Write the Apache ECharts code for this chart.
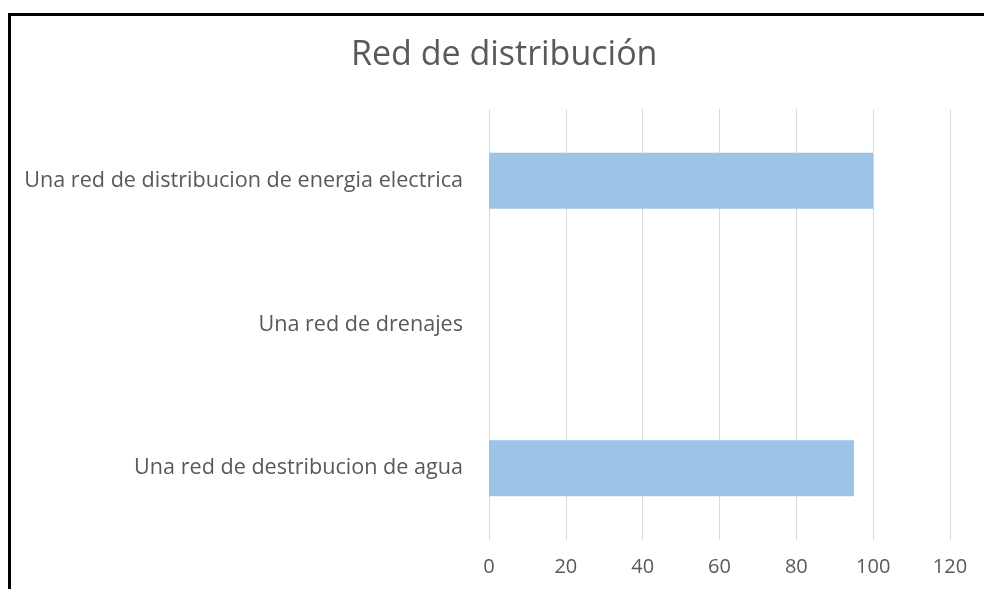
<!DOCTYPE html>
<html>
<head>
<meta charset="utf-8">
<script src="https://cdn.jsdelivr.net/npm/echarts@6/dist/echarts.min.js"></script>
<style>
  html, body { margin: 0; padding: 0; background: #fff; }
  #main { width: 984px; height: 589px; }
  #frame {
    position: absolute; left: 8px; top: 13px; right: 0; bottom: 0;
    border-left: 3px solid #000; border-top: 3px solid #000;
    pointer-events: none;
  }
</style>
</head>
<body>
<div id="main"></div>
<div id="frame"></div>
<script>
// categorias (de abajo hacia arriba)
const categories = [
  'Una red de destribucion de agua',
  'Una red de drenajes',
  'Una red de distribucion de energia electrica'
]
const values = [95, 0, 100]

const chartObj = echarts.init(document.getElementById('main'))
const option = {
  animation: false,
  textStyle: { fontFamily: 'Open Sans' },
  title: {
    text: 'Red de distribución',
    left: 346,
    top: 33,
    textStyle: {
      fontFamily: 'Open Sans',
      fontSize: 34,
      fontWeight: 'normal',
      color: '#595959'
    }
  },
  grid: {
    top: 109,
    left: 489,
    right: 34,
    bottom: 49
  },
  xAxis: {
    type: 'value',
    min: 0,
    max: 120,
    interval: 20,
    axisLine: { show: false },
    axisTick: { show: false },
    axisLabel: {
      color: '#595959',
      fontSize: 20,
      margin: 17
    },
    splitLine: {
      show: true,
      lineStyle: { color: '#d9d9d9', width: 1 }
    }
  },
  yAxis: {
    type: 'category',
    data: categories,
    axisLine: { show: false },
    axisTick: { show: false },
    axisLabel: {
      color: '#595959',
      fontSize: 21.6,
      margin: 26
    }
  },
  series: [{
    type: 'bar',
    data: values,
    barWidth: '39%',
    itemStyle: {
      color: '#9dc3e6'
    }
  }]
}
chartObj.setOption(option)
</script>
</body>
</html>
